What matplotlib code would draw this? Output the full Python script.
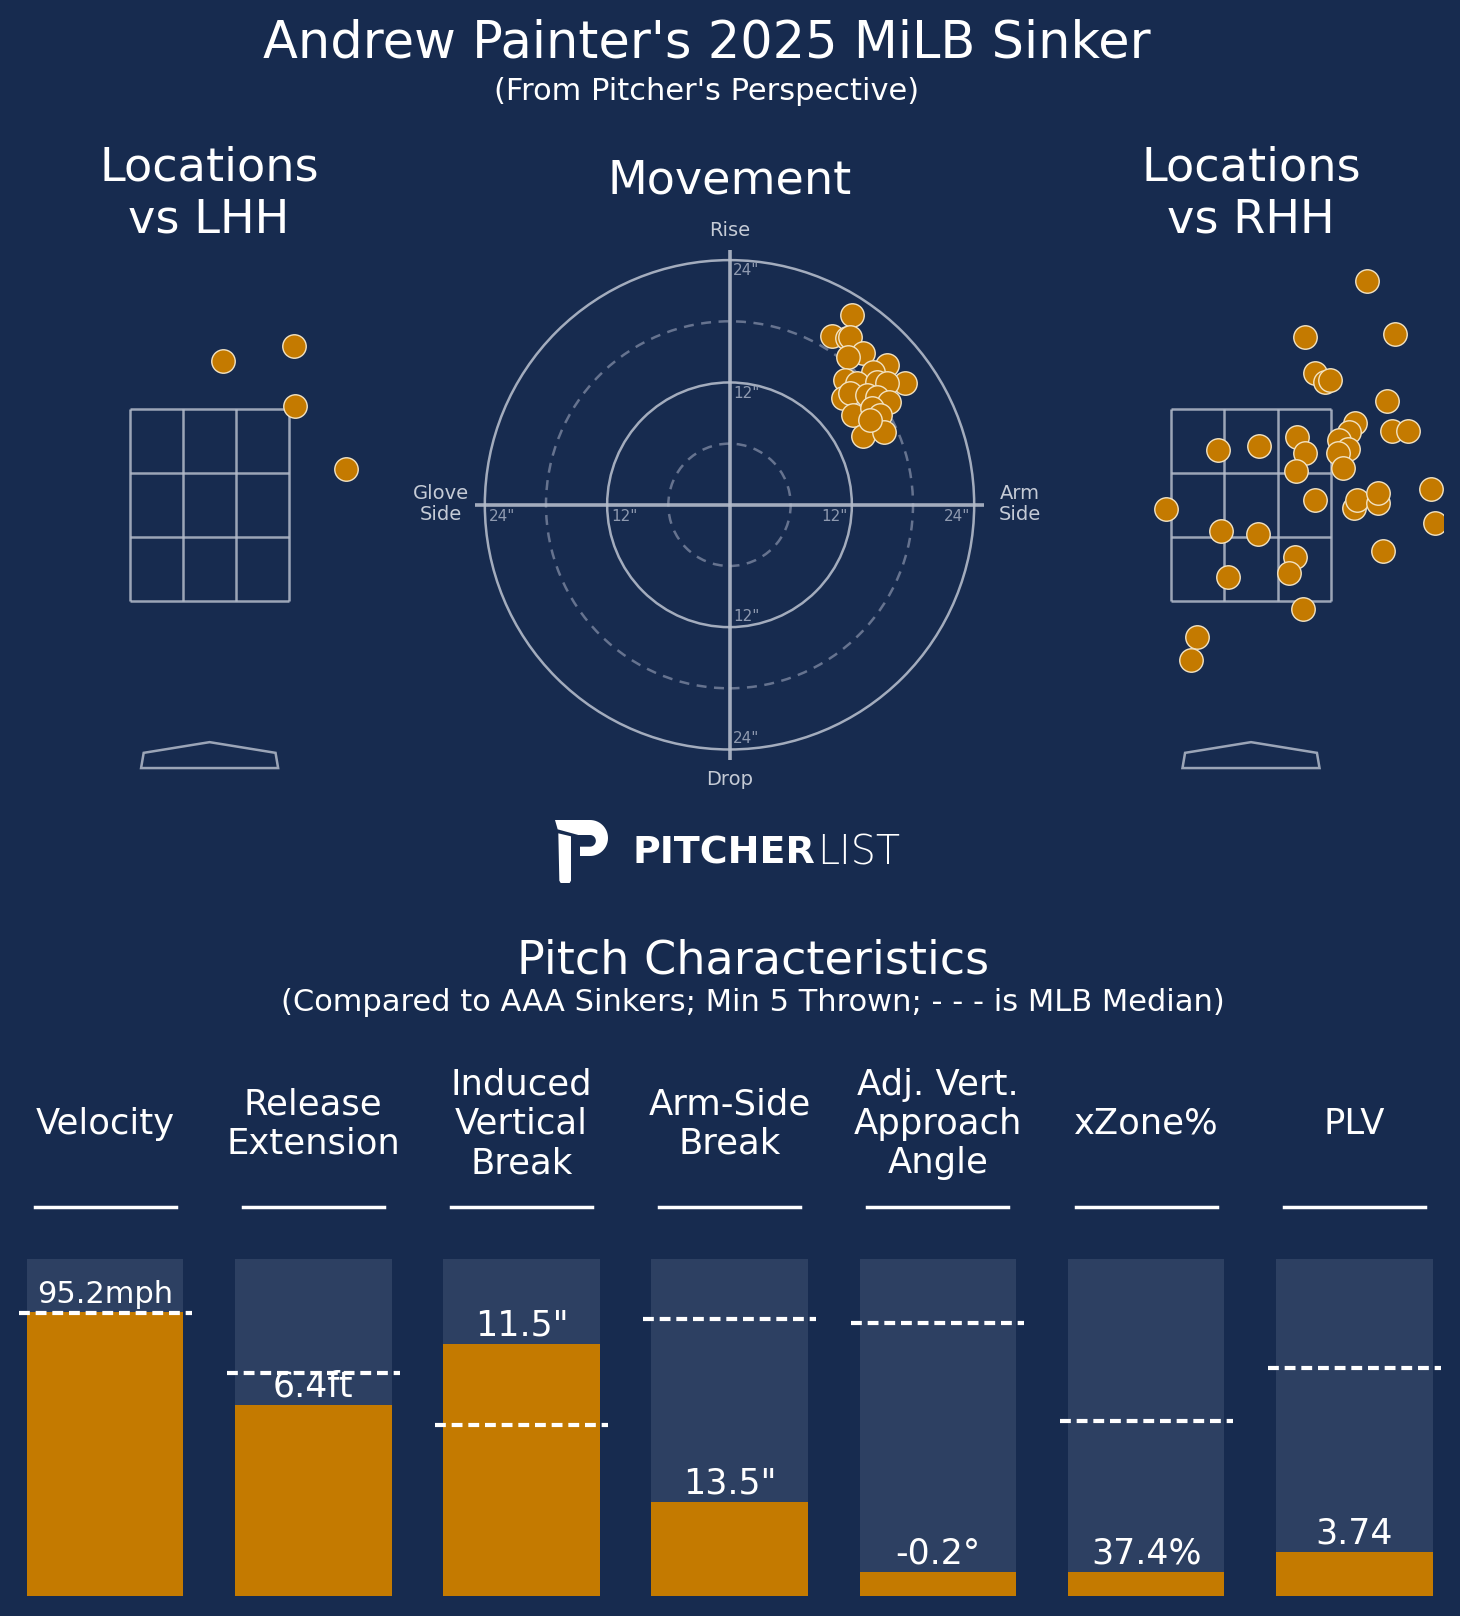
import matplotlib
matplotlib.use('Agg')
import matplotlib.pyplot as plt
from matplotlib.patches import Rectangle, Circle, Polygon
import numpy as np

# ---------------- data ----------------
title = "Andrew Painter's 2025 MiLB Sinker"
subtitle = "(From Pitcher's Perspective)"

# movement (inches): horizontal break (arm side +), induced vertical break
mov_hb = [12.05, 10.02, 11.50, 11.82, 13.12, 11.65, 15.42, 14.11, 17.21, 11.33,
          12.48, 14.44, 15.42, 11.16, 11.82, 13.46, 14.44, 15.67, 12.14, 13.95,
          14.76, 13.06, 15.18, 13.78]
mov_ivb = [18.62, 16.59, 16.33, 16.49, 14.86, 14.53, 13.71, 13.06, 11.92, 12.24,
           11.92, 12.07, 11.92, 10.45, 10.94, 10.77, 10.60, 10.11, 8.81, 9.47,
           8.81, 6.78, 7.17, 8.32]

# locations (feet)
lhh_x = [0.12, 0.75, 0.76, 1.21]
lhh_z = [3.63, 3.76, 3.23, 2.67]
rhh_x = [1.03, 0.48, 1.28, 0.57, 0.66, 0.70, 1.21, 0.92, 0.87, 1.25, 1.39, 0.41,
         0.48, 0.78, 0.86, 0.77, 0.82, -0.29, 0.07, 0.40, -0.75, 0.57, 0.91, 0.94,
         1.13, 1.13, 1.60, 1.63, -0.27, 0.06, 1.17, 0.39, 0.34, -0.20, 0.46, -0.48,
         -0.53]
rhh_z = [4.34, 3.84, 3.87, 3.52, 3.44, 3.46, 3.27, 3.08, 3.00, 3.01, 3.01, 2.95,
         2.81, 2.93, 2.85, 2.81, 2.68, 2.84, 2.87, 2.65, 2.31, 2.39, 2.32, 2.39,
         2.37, 2.46, 2.49, 2.19, 2.12, 2.09, 1.94, 1.89, 1.75, 1.71, 1.43, 1.18,
         0.97]
sz_bot, sz_top = 1.5, 3.2

metrics = ["Velocity", "Release\nExtension", "Induced\nVertical\nBreak",
           "Arm-Side\nBreak", "Adj. Vert.\nApproach\nAngle", "xZone%", "PLV"]
value_labels = ["95.2mph", "6.4ft", "11.5\"", "13.5\"", "-0.2°", "37.4%", "3.74"]
percentiles = [84.4, 56.6, 74.8, 28.0, 7.1, 7.1, 13.2]
median_pct = [84.0, 66.3, 50.8, 82.2, 80.9, 52.0, 67.7]

# ---------------- style ----------------
W, H = 1460, 1616
BG = '#172b4f'
BARBG = '#2d4062'
ORANGE = '#c47a00'
EDGE = '#f3e3c3'
GRID = '#b3bbca'
DASHC = '#66738f'
LBL = '#c5cbd6'
TICKC = '#8f9ab0'

fig = plt.figure(figsize=(W / 100, H / 100), dpi=100, facecolor=BG)


def px(x, y):
    return x / W, 1 - y / H


def ax_px(left, top, width, height):
    ax = fig.add_axes([left / W, 1 - (top + height) / H, width / W, height / H])
    ax.set_facecolor('none')
    ax.axis('off')
    return ax


# titles
fig.text(*px(707, 43), title, ha='center', va='center', fontsize=36.7, color='white')
fig.text(*px(707, 92), subtitle, ha='center', va='center', fontsize=22, color='white')

fig.text(*px(209, 194), "Locations\nvs LHH", ha='center', va='center', fontsize=33.3,
         color='white', linespacing=1.2)
fig.text(*px(1251, 194), "Locations\nvs RHH", ha='center', va='center', fontsize=33.3,
         color='white', linespacing=1.2)
fig.text(*px(729.5, 181), "Movement", ha='center', va='center', fontsize=33.2, color='white')

# ---------------- location plots ----------------
PPF = 112.7  # pixels per foot
xl = (-1.7, 1.7)
yl = (-0.1, 4.6)
plate = [(-0.608, 0.015), (-0.585, 0.15), (0.0, 0.245), (0.585, 0.15), (0.608, 0.015)]


def loc_plot(cx, xs, zs):
    wpx = (xl[1] - xl[0]) * PPF
    hpx = (yl[1] - yl[0]) * PPF
    top = 600.7 - (yl[1] - sz_bot) * PPF
    ax = ax_px(cx + xl[0] * PPF, top, wpx, hpx)
    ax.set_xlim(*xl)
    ax.set_ylim(*yl)
    hw = 17 / 24
    zc = dict(color=GRID, lw=1.8, alpha=0.85, solid_capstyle='butt')
    for xv in np.linspace(-hw, hw, 4):
        ax.plot([xv, xv], [sz_bot, sz_top], **zc)
    for zv in np.linspace(sz_bot, sz_top, 4):
        ax.plot([-hw, hw], [zv, zv], **zc)
    ax.add_patch(Polygon(plate, closed=True, fill=False, edgecolor=GRID, lw=1.8, alpha=0.85))
    ax.scatter(xs, zs, s=285, color=ORANGE, edgecolor=EDGE, linewidth=1.0, zorder=5,
               clip_on=True)


loc_plot(209.6, lhh_x, lhh_z)
loc_plot(1251.0, rhh_x, rhh_z)

# ---------------- movement plot ----------------
PPI = 10.195
cx, cy = 729.5, 504.8
hx, hy = 31, 29.5
mv = ax_px(cx - hx * PPI, cy - hy * PPI, 2 * hx * PPI, 2 * hy * PPI)
mv.set_xlim(-hx, hx)
mv.set_ylim(-hy, hy)
for r in (12, 24):
    mv.add_patch(Circle((0, 0), r, fill=False, edgecolor=GRID, lw=1.8, alpha=0.9))
for r in (6, 18):
    mv.add_patch(Circle((0, 0), r, fill=False, edgecolor=DASHC, lw=1.8,
                        linestyle=(0, (4, 3))))
mv.plot([-25, 25], [0, 0], color=GRID, lw=2.6, alpha=0.9, solid_capstyle='butt')
mv.plot([0, 0], [-25, 25], color=GRID, lw=2.6, alpha=0.9, solid_capstyle='butt')
tk = dict(fontsize=11, color=TICKC)
mv.text(0.35, 23.7, '24"', ha='left', va='top', **tk)
mv.text(0.35, 11.7, '12"', ha='left', va='top', **tk)
mv.text(0.35, -11.7, '12"', ha='left', va='bottom', **tk)
mv.text(0.35, -23.7, '24"', ha='left', va='bottom', **tk)
mv.text(-23.6, -0.45, '24"', ha='left', va='top', **tk)
mv.text(-11.6, -0.45, '12"', ha='left', va='top', **tk)
mv.text(11.6, -0.45, '12"', ha='right', va='top', **tk)
mv.text(23.6, -0.45, '24"', ha='right', va='top', **tk)
lb = dict(fontsize=14, color=LBL, ha='center', va='center', linespacing=1.1)
mv.text(0, 26.9, 'Rise', **lb)
mv.text(0, -26.9, 'Drop', **lb)
mv.text(-28.3, 0.1, 'Glove\nSide', **lb)
mv.text(28.5, 0.1, 'Arm\nSide', **lb)
mv.scatter(mov_hb, mov_ivb, s=285, color=ORANGE, edgecolor=EDGE, linewidth=1.0, zorder=5)

# ---------------- logo ----------------
lg = ax_px(545, 810, 80, 80)
lg.set_xlim(0, 240)
lg.set_ylim(240, 0)
t = np.linspace(-np.pi / 2, np.pi / 2, 30)
outer = [(135 + 54 * np.cos(a), 84 + 54 * np.sin(a)) for a in t]
inner = [(135 + 17.5 * np.cos(a), 92.5 + 17.5 * np.sin(a)) for a in t[::-1]]
bowl = [(30, 30)] + outer + [(105, 138), (105, 110)] + inner + [(100, 75), (38, 58)]
lg.add_patch(Polygon(bowl, closed=True, facecolor='white', edgecolor='none'))
stem = [(40, 70), (78, 79), (78, 212), (74, 219), (47, 219), (43, 212)]
lg.add_patch(Polygon(stem, closed=True, facecolor='white', edgecolor='none'))
t1 = fig.text(*px(633, 853), "PITCHER", ha='left', va='center', fontsize=27.4,
              family='DejaVu Sans', fontweight='bold', color='white')
fig.canvas.draw()
ext = t1.get_window_extent()
fig.text((ext.x1 + 1) / W, 1 - 853 / H, "LIST", ha='left', va='center', fontsize=28.5,
         family='DejaVu Sans', fontweight=200, color='white')

# ---------------- pitch characteristics ----------------
fig.text(*px(752.6, 961), "Pitch Characteristics", ha='center', va='center',
         fontsize=33.2, color='white')
fig.text(*px(752.6, 1002.5), "(Compared to AAA Sinkers; Min 5 Thrown; - - - is MLB Median)",
         ha='center', va='center', fontsize=22, color='white')

STEP = 208.2
X0 = 105.1
bw = 156.6 / STEP
bars = ax_px(0, 1259, W, 337)
bars.set_xlim(-X0 / STEP, (W - X0) / STEP)
bars.set_ylim(0, 1)
xs = np.arange(len(metrics))
bars.bar(xs, [1] * len(xs), width=bw, color=BARBG, zorder=1)
bars.bar(xs, np.array(percentiles) / 100, width=bw, color=ORANGE, zorder=2)
for i, (m, lab, p, md) in enumerate(zip(metrics, value_labels, percentiles, median_pct)):
    hx_ = bw / 2 + 8.2 / STEP
    bars.plot([i - hx_, i + hx_], [md / 100, md / 100], color='white', lw=3,
              linestyle=(0, (2.6, 1.4)), zorder=4, clip_on=False)
    fs = 22 if len(lab) > 6 else 25
    bars.annotate(lab, (i, p / 100), xytext=(0, 6), textcoords='offset points',
                  ha='center', va='baseline', fontsize=fs, color='white', zorder=5)
    ccx = X0 + STEP * i
    fig.text(*px(ccx, 1124), m, ha='center', va='center', fontsize=25.5, color='white')
    fig.add_artist(plt.Line2D([(ccx - 70.5) / W, (ccx + 70.5) / W],
                              [1 - 1206.5 / H, 1 - 1206.5 / H], color='white', lw=2.5))

fig.savefig('out.png', dpi=100, facecolor=BG)
